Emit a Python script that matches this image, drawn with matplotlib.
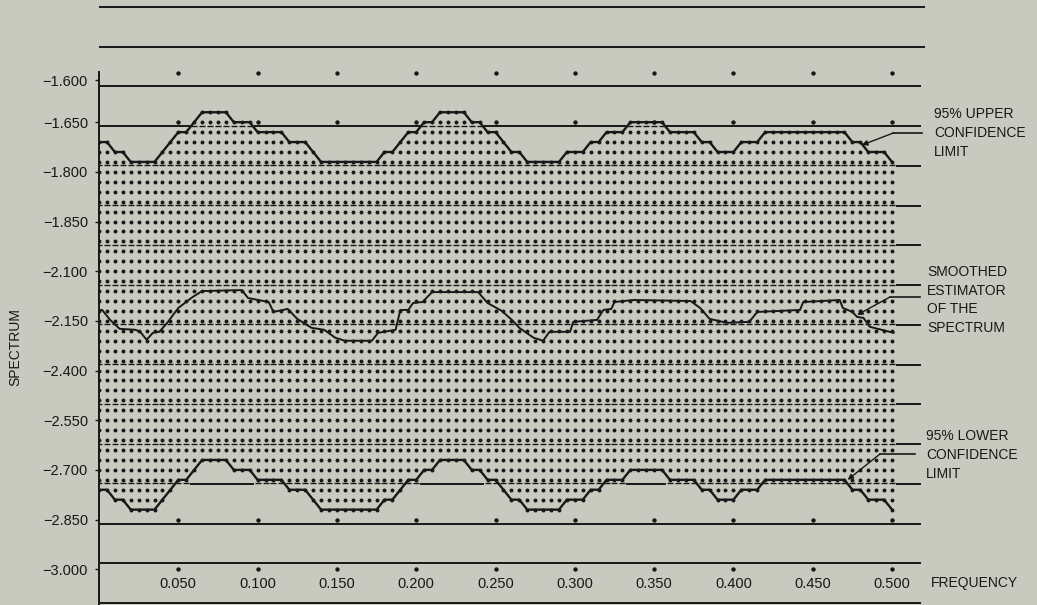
import numpy as np
import matplotlib.pyplot as plt

plt.rcParams['font.family'] = ['Liberation Sans', 'DejaVu Sans']

BG = "#c9cabf"
INK = "#181818"

# printer grid: one column every 0.005 in frequency, rows counted downward
freq_step = 0.005
n_cols = 101
freq = freq_step * np.arange(n_cols)

# top dotted row of each column (95% upper confidence limit)
upper_row = [14, 14, 15, 15, 16, 16, 16, 16, 15, 14,
             13, 13, 12, 11, 11, 11, 11, 12, 12, 12,
             13, 13, 13, 13, 14, 14, 14, 15, 16, 16,
             16, 16, 16, 16, 16, 16, 15, 15, 14, 13,
             13, 12, 12, 11, 11, 11, 11, 12, 12, 13,
             13, 14, 15, 15, 16, 16, 16, 16, 16, 15,
             15, 15, 14, 14, 13, 13, 13, 12, 12, 12,
             12, 12, 13, 13, 13, 13, 14, 14, 15, 15,
             15, 14, 14, 14, 13, 13, 13, 13, 13, 13,
             13, 13, 13, 13, 13, 14, 14, 15, 15, 15,
             16]

# bottom dotted row of each column (95% lower confidence limit)
lower_row = [49, 49, 50, 50, 51, 51, 51, 51, 50, 49,
             48, 48, 47, 46, 46, 46, 46, 47, 47, 47,
             48, 48, 48, 48, 49, 49, 49, 50, 51, 51,
             51, 51, 51, 51, 51, 51, 50, 50, 49, 48,
             48, 47, 47, 46, 46, 46, 46, 47, 47, 48,
             48, 49, 50, 50, 51, 51, 51, 51, 51, 50,
             50, 50, 49, 49, 48, 48, 48, 47, 47, 47,
             47, 47, 48, 48, 48, 48, 49, 49, 50, 50,
             50, 49, 49, 49, 48, 48, 48, 48, 48, 48,
             48, 48, 48, 48, 48, 49, 49, 50, 50, 50,
             51]

# smoothed estimator of the spectrum
smooth_freq = [0.000, 0.002, 0.007, 0.013, 0.023, 0.026, 0.030, 0.034, 0.038, 0.043,
               0.050, 0.059, 0.065, 0.090, 0.094, 0.107, 0.110, 0.119, 0.125, 0.134,
               0.142, 0.149, 0.155, 0.172, 0.176, 0.187, 0.190, 0.195, 0.198, 0.204,
               0.210, 0.239, 0.245, 0.254, 0.261, 0.265, 0.274, 0.280, 0.284, 0.297,
               0.299, 0.314, 0.318, 0.323, 0.325, 0.337, 0.373, 0.379, 0.385, 0.396,
               0.410, 0.415, 0.442, 0.444, 0.467, 0.469, 0.475, 0.478, 0.482, 0.486,
               0.501]
smooth_row = [30.9, 30.9, 31.9, 32.8, 32.9, 33.1, 33.9, 33.2, 33.1, 32.2,
              30.7, 29.6, 29.0, 28.9, 29.7, 30.1, 31.1, 30.8, 31.8, 32.7,
              32.9, 33.7, 34.0, 34.0, 33.2, 32.9, 30.9, 30.9, 30.2, 30.1,
              29.1, 29.1, 30.2, 31.0, 32.0, 32.7, 33.7, 34.0, 33.1, 33.1,
              32.1, 31.9, 30.9, 30.8, 30.1, 29.9, 30.0, 30.7, 31.8, 32.2,
              32.1, 31.1, 30.9, 30.1, 29.9, 30.7, 31.1, 31.6, 31.7, 32.6,
              33.2]

ytick_rows = [7.8, 12, 17, 22, 27, 32, 37, 42, 47, 52, 57]
ytick_labels = ["\u22121.600", "\u22121.650", "\u22121.800", "\u22121.850", "\u22122.100",
                "\u22122.150", "\u22122.400", "\u22122.550", "\u22122.700", "\u22122.850",
                "\u22123.000"]
xtick_freq = [0.05, 0.10, 0.15, 0.20, 0.25, 0.30, 0.35, 0.40, 0.45, 0.50]
xtick_labels = ["0.050", "0.100", "0.150", "0.200", "0.250",
                "0.300", "0.350", "0.400", "0.450", "0.500"]
tick_dot_rows = [7, 12, 52, 57]

fig = plt.figure(figsize=(10.37, 6.05), dpi=100, facecolor=BG)
ax = fig.add_axes([99 / 1037, 0, 938 / 1037, 1])
ax.set_facecolor(BG)
ax.set_xlim(0, 0.5914)
ax.set_ylim(60.6, -0.3)

# dots between the two confidence limits
dx, dy, dash_x, dash_y = [], [], [], []
for k in range(n_cols):
    for r in range(upper_row[k], lower_row[k] + 1):
        dx.append(freq[k])
        dy.append(r)
        if r % 4 == 0:
            dash_x.append(freq[k])
            dash_y.append(r + 0.35)
ax.scatter(dx, dy, s=8, color=INK, linewidths=0, zorder=2)
ax.plot(dash_x, dash_y, ls="none", marker="_", ms=4, mew=1.0, color=INK, zorder=2)

# dots on the frequency tick columns outside the band
tx = [f for f in xtick_freq for r in tick_dot_rows]
ty = [r for f in xtick_freq for r in tick_dot_rows]
ax.scatter(tx, ty, s=10, color=INK, linewidths=0, zorder=2)

# horizontal rule every 4th row, solid only where no dots are printed
half = freq_step / 2
for m in range(16):
    r = 4 * m
    x0s, x1s = [], []
    for k in range(n_cols):
        if not (upper_row[k] <= r <= lower_row[k]):
            x0s.append(max(freq[k] - half, 0))
            x1s.append(freq[k] + half)
    x0s.append(freq[-1] + half)
    x1s.append(0.521 if m < 2 else 0.518)
    ax.hlines([r + 0.4] * len(x0s), x0s, x1s, color=INK, lw=1.4, zorder=1)

# confidence limits and smoothed estimator
ax.plot(freq, upper_row, color=INK, lw=1.7, zorder=3)
ax.plot(freq, lower_row, color=INK, lw=1.7, zorder=3)
ax.plot(smooth_freq, smooth_row, color=INK, lw=1.4, zorder=3)

# annotations on the right
arrow = dict(arrowstyle="-|>", color=INK, lw=1.0, mutation_scale=8, shrinkA=0, shrinkB=0)
ax.plot([0.5006, 0.519], [13.1, 13.1], color=INK, lw=1.2)
ax.annotate("", xy=(0.481, 14.3), xytext=(0.5006, 13.1), arrowprops=arrow)
ax.plot([0.4987, 0.5177], [29.6, 29.6], color=INK, lw=1.2)
ax.annotate("", xy=(0.478, 31.4), xytext=(0.4987, 29.6), arrowprops=arrow)
ax.plot([0.4924, 0.5145], [45.4, 45.4], color=INK, lw=1.2)
ax.annotate("", xy=(0.472, 48.0), xytext=(0.4924, 45.4), arrowprops=arrow)

txt = dict(color=INK, fontsize=10, ha="left", va="center", linespacing=1.45)
ax.text(0.5265, 13.1, "95% UPPER\nCONFIDENCE\nLIMIT", **txt)
ax.text(0.522, 29.9, "SMOOTHED\nESTIMATOR\nOF THE\nSPECTRUM", **txt)
ax.text(0.5214, 45.5, "95% LOWER\nCONFIDENCE\nLIMIT", **txt)
ax.text(0.5246, 58.4, "FREQUENCY", **txt)

for f, lab in zip(xtick_freq, xtick_labels):
    ax.text(f, 58.5, lab, color=INK, fontsize=10.5, ha="center", va="center")

# axes
for s in ["top", "right", "bottom"]:
    ax.spines[s].set_visible(False)
ax.spines["left"].set_bounds(6.9, 60.6)
ax.spines["left"].set_color(INK)
ax.spines["left"].set_linewidth(1.4)
ax.set_xticks([])
ax.set_yticks(ytick_rows, ytick_labels)
ax.tick_params(axis="y", length=3, width=1, pad=5, labelsize=10.5, colors=INK)

fig.text(15 / 1037, 1 - 347 / 605, "SPECTRUM", rotation=90, fontsize=10,
         color=INK, ha="center", va="center")

fig.savefig("out.png", dpi=100, facecolor=BG)
